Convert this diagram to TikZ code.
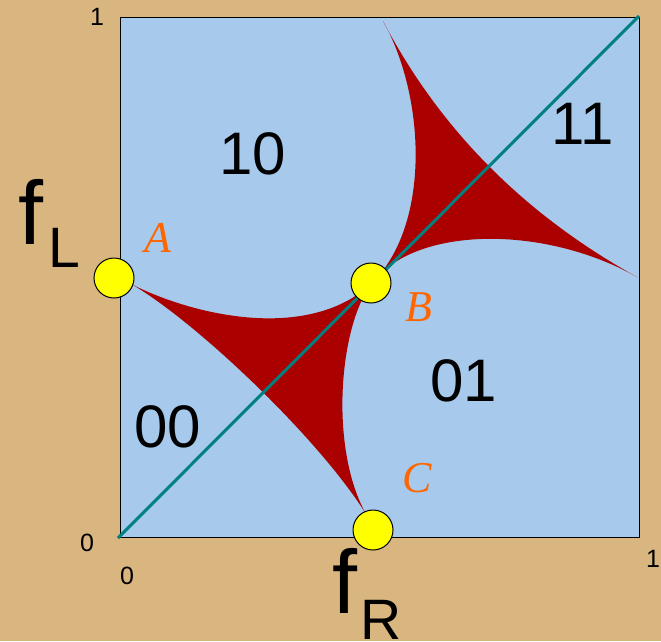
\documentclass[tikz,border=0pt]{standalone}
\usepackage{fontspec}
\setmainfont{Liberation Sans}
\newfontfamily\labelfont{Liberation Serif}
\usepackage{tikz}
\definecolor{Tan}{HTML}{D9B57F}
\definecolor{Sky}{HTML}{A6C9EC}
\definecolor{Blood}{HTML}{AA0000}
\definecolor{Diag}{HTML}{008080}
\definecolor{Dot}{HTML}{FFFF00}
\definecolor{Mark}{HTML}{FF6600}
\tikzset{
  region/.style={inner sep=0pt,font=\fontsize{60}{60}\selectfont},
  tick/.style={inner sep=0pt,font=\fontsize{25}{25}\selectfont},
  point/.style={circle,draw=black,line width=1pt,fill=Dot,minimum size=40pt,inner sep=0pt},
  pointlabel/.style={inner sep=0pt,text=Mark,font=\labelfont\itshape\fontsize{44}{44}\selectfont},
  axislabel/.style={inner sep=0pt,anchor=base west,font=\fontsize{90}{90}\selectfont},
  wedge/.style={fill=Blood,draw=none},
  diag/.style={draw=Diag,line width=3pt}
}
\newcommand{\subtxt}[2]{\raisebox{-#1}{\fontsize{57}{57}\selectfont #2}}

\begin{document}
\begin{tikzpicture}[x=1pt,y=-1pt]
  \fill[Tan] (0,0) rectangle (661,641);
  \useasboundingbox (0,0) rectangle (661,641);
  \fill[Sky] (120,17) rectangle (639,537);
  % lower cusp triangle
  \fill[wedge] (133,285) .. controls (200,318) and (310,340) .. (371,284)
    .. controls (338,330) and (330,450) .. (366,514)
    .. controls (320,440) and (200,325) .. (133,285) -- cycle;
  % upper cusp triangle
  \fill[wedge] (371,284) .. controls (432,225) and (425,95) .. (383,21)
    .. controls (440,130) and (525,215) .. (637,277)
    .. controls (545,225) and (415,225) .. (371,284) -- cycle;
  \draw[line width=0.8pt] (120,17) rectangle (639,537);
  \coordinate (o) at (118,538);
  \coordinate (e) at (639,16);
  \draw[diag] (o) -- (e);
  % regions
  \node[region] (r10) at (253,154) {10};
  \node[region] (r11) at (583,124) {11};
  \node[region] (r01) at (464,381) {01};
  \node[region] (r00) at (168,427) {00};
  % axis ticks
  \node[tick] (ytop) at (97,17) {1};
  \node[tick] (yzero) at (87,543) {0};
  \node[tick] (xzero) at (127,576) {0};
  \node[tick] (xone) at (653,559) {1};
  % axis names
  \node[axislabel] (fL) at (18,244) {f\kern5pt\subtxt{23pt}{L}};
  \node[axislabel] (fR) at (332,613) {f\kern3.5pt\subtxt{26pt}{R}};
  % points
  \node[point] (A) at (114,278) {};
  \node[point] (B) at (371,283) {};
  \node[point] (C) at (373,530) {};
  \node[pointlabel] (labA) at (158,238) {A};
  \node[pointlabel] (labB) at (419,307) {B};
  \node[pointlabel] (labC) at (417,478) {C};
\end{tikzpicture}
\end{document}
